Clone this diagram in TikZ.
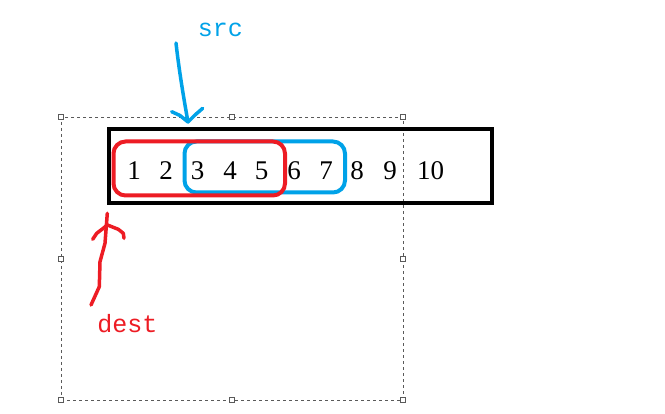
\documentclass[tikz,border=0pt]{standalone}
\usepackage{fontspec}
\setmainfont{Liberation Serif}
\newfontfamily\monofnt{Liberation Mono}
\definecolor{pblue}{RGB}{0,162,232}
\definecolor{pred}{RGB}{237,28,36}
\definecolor{selgray}{RGB}{90,90,90}
\tikzset{
  digit/.style={anchor=base, inner sep=0pt, font=\fontsize{27}{30}\selectfont},
  selbox/.style={draw=selgray, line width=0.8pt, dash pattern=on 3pt off 3pt},
  handle/.style={draw=selgray, fill=white, line width=0.8pt, minimum size=5pt, inner sep=0pt, rectangle},
  strip/.style={draw=black, line width=4pt, rectangle, inner sep=0pt},
  redring/.style={draw=pred, line width=4pt, rounded corners=12pt, rectangle, inner sep=0pt},
  bluering/.style={draw=pblue, line width=4pt, rounded corners=12pt, rectangle, inner sep=0pt},
  pen/.style={line width=3.5pt, line cap=round, line join=round},
  lbl/.style={inner sep=0pt, font=\monofnt\fontsize{25}{28}\selectfont}
}
\begin{document}
\begin{tikzpicture}[x=1pt,y=-1pt]
\useasboundingbox (0,0) rectangle (665,414);
% selection box
\node[selbox, minimum width=342pt, minimum height=283pt, rectangle, inner sep=0pt] (sel) at (232,258.5) {};
\foreach \n/\p in {h1/{(61,117)},h2/{(232,117)},h3/{(403,117)},h4/{(61,259)},h5/{(403,259)},h6/{(61,400)},h7/{(232,400)},h8/{(403,400)}}
  \node[handle] (\n) at \p {};
% black strip
\node[strip, minimum width=383pt, minimum height=74pt] (strip) at (300.5,166) {};
% rings (red drawn over blue)
\node[bluering, minimum width=160.5pt, minimum height=51pt] (blue) at (264.75,167) {};
\node[redring, minimum width=171.5pt, minimum height=54pt] (red) at (199.25,168.5) {};
% digits
\foreach \n/\x in {1/134,2/166,3/197.7,4/230,5/261.7,6/294,7/326,8/357,9/390,10/430.7}
  \node[digit] (d\n) at (\x,180) {\n};
% labels
\node[lbl, text=pblue, anchor=center] (src) at (220.5,30) {src};
\node[lbl, text=pred, anchor=center] (dest) at (127.5,324) {dest};
% blue arrow
\coordinate (bs) at (176,43);
\coordinate (bt) at (188,122);
\draw[pen, pblue] (bs) .. controls (179,70) and (184,100) .. (bt);
\draw[pen, pblue] (171.7,111.7) -- (180,115.5) -- (bt) -- (195,115) -- (202.7,108.3);
% red arrow
\coordinate (rs) at (91,305);
\coordinate (rt) at (107.3,213.3);
\draw[pen, pred] (rs) -- (99.3,286.7) -- (100,261.7) -- (105,243.3) -- (rt);
\draw[pen, pred] (92.7,239.3) -- (96.7,233.3) -- (103.3,228.3) -- (107.3,225) -- (110,226) -- (118.3,229.3) -- (123.3,233.3) -- (124,238.3);
\end{tikzpicture}
\end{document}
